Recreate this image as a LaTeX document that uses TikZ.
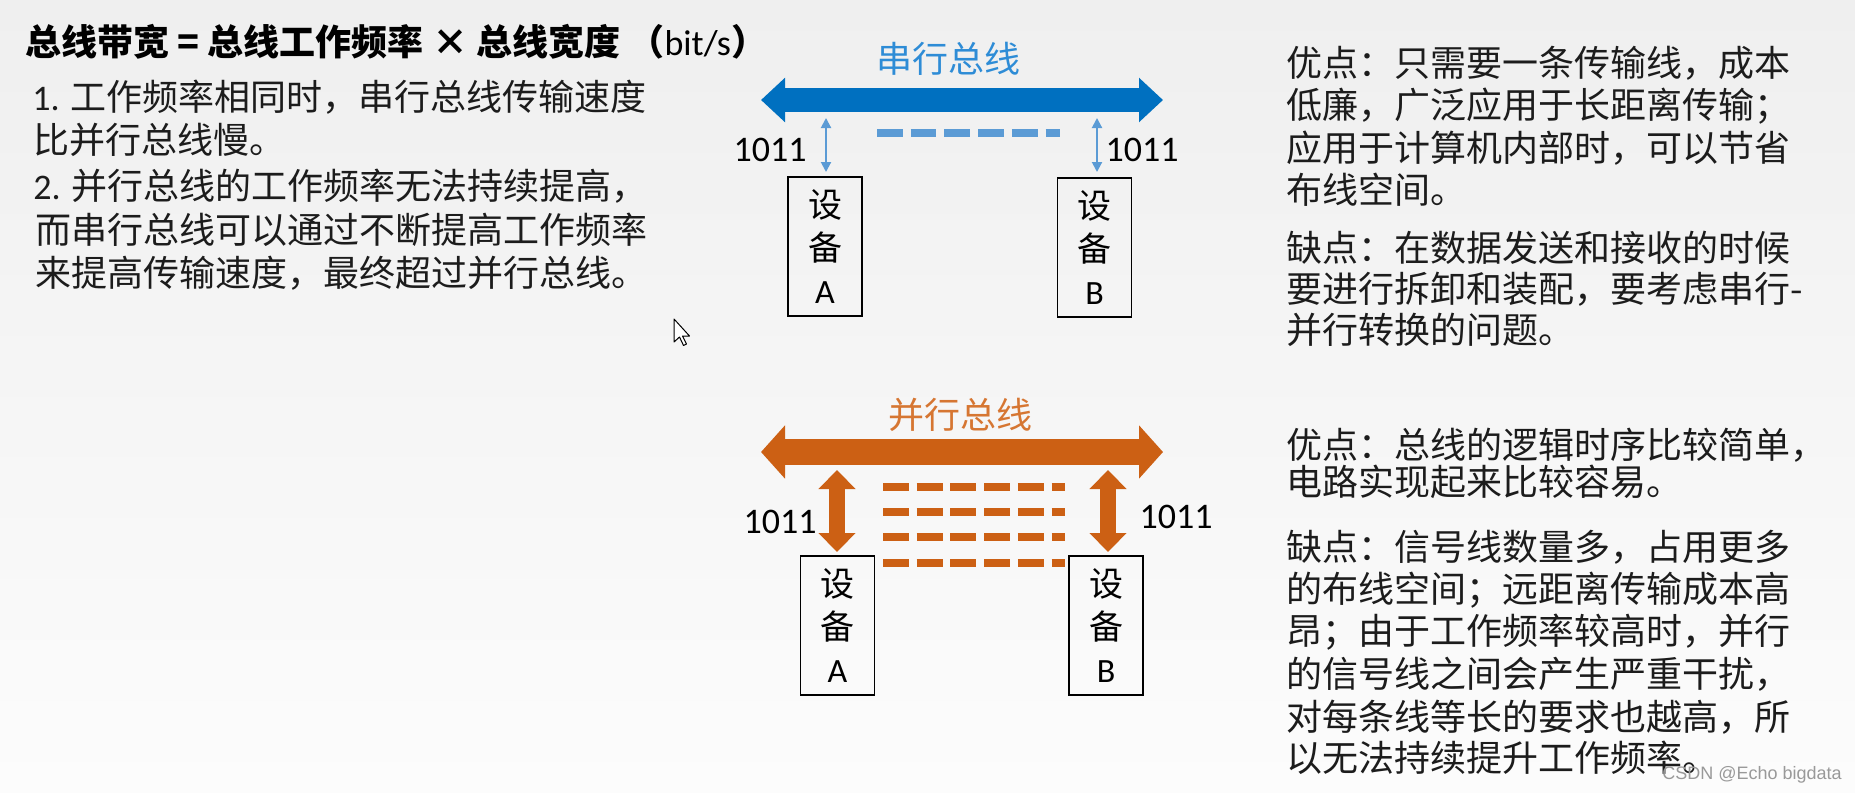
\documentclass[tikz,border=0pt]{standalone}
\usepackage{fontspec}
\setmainfont{Carlito}
\newfontfamily\cjk{Noto Sans CJK SC}
\newfontfamily\lat{Carlito}
\newfontfamily\wmfont{Liberation Sans}
\usetikzlibrary{arrows.meta}
\definecolor{serialblue}{RGB}{0,112,192}
\definecolor{lightblue}{RGB}{91,155,213}
\definecolor{serialtitle}{RGB}{46,140,214}
\definecolor{parorange}{RGB}{204,96,20}
\definecolor{partitle}{RGB}{214,118,50}
\definecolor{txt}{RGB}{28,28,28}
\definecolor{bgtop}{RGB}{239,239,239}
\definecolor{bgbot}{RGB}{252,252,252}
\tikzset{
  textline/.style={anchor=west, inner sep=0pt, text=txt, font=\cjk\fontsize{18pt}{21pt}\selectfont},
  devbox/.style={draw=black, line width=0.75pt, minimum width=37pt, minimum height=69.5pt, inner sep=0pt, align=center, text=black, font=\cjk\fontsize{17pt}{21.5pt}\selectfont},
  numlabel/.style={inner sep=0pt, text=black, font=\lat\fontsize{18pt}{20pt}\selectfont},
  bustitle/.style={inner sep=0pt, font=\cjk\fontsize{18pt}{21pt}\selectfont},
  serialbus/.style={serialblue, line width=11.5pt, {Triangle[length=12pt,width=21.5pt]}-{Triangle[length=12pt,width=21.5pt]}},
  parbus/.style={parorange, line width=13pt, {Triangle[length=12pt,width=26pt]}-{Triangle[length=12pt,width=26pt]}},
  thinlink/.style={lightblue, line width=1pt, {Triangle[length=5pt,width=5pt]}-{Triangle[length=5pt,width=5pt]}},
  thicklink/.style={parorange, line width=8pt, {Triangle[length=9.5pt,width=18pt]}-{Triangle[length=9.5pt,width=18pt]}},
  serialdash/.style={lightblue, line width=4pt, dash pattern=on 12.85pt off 4pt},
  pardash/.style={parorange, line width=4.25pt, dash pattern=on 13pt off 3.85pt}
}
\begin{document}
\begin{tikzpicture}[x=0.5pt,y=-0.5pt]
\useasboundingbox (0,0) rectangle (1855,792);
\shade[top color=bgtop, bottom color=bgbot] (0,0) rectangle (1855,792);

% ---------- left text ----------
\node[textline, text=black, font=\cjk\bfseries\fontsize{18pt}{21pt}\selectfont] (title) at (25,42) {总线带宽 = 总线工作频率 × 总线宽度 （{\lat\mdseries bit/s}）};
\node[textline] (l1) at (32,97) {{\lat 1.} 工作频率相同时，串行总线传输速度};
\node[textline] (l2) at (33,140) {比并行总线慢。};
\node[textline] (l3) at (33,186) {{\lat 2.} 并行总线的工作频率无法持续提高，};
\node[textline] (l4) at (35,230) {而串行总线可以通过不断提高工作频率};
\node[textline] (l5) at (35,273) {来提高传输速度，最终超过并行总线。};

% ---------- serial bus ----------
\node[bustitle, text=serialtitle] (stitle) at (948,59) {串行总线};
\coordinate (sL) at (761,100);
\coordinate (sR) at (1163,100);
\draw[serialbus] (sL) -- (sR);
\node[devbox] (sA) at (825,246.5) {设\\备\\{\lat A}};
\node[devbox] (sB) at (1094.5,247.5) {设\\备\\{\lat B}};
\coordinate (sAt) at (826,118);
\coordinate (sAb) at (826,172);
\coordinate (sBt) at (1097,118);
\coordinate (sBb) at (1097,172);
\draw[thinlink] (sAt) -- (sAb);
\draw[thinlink] (sBt) -- (sBb);
\coordinate (sd1) at (877,133);
\coordinate (sd2) at (1060,133);
\draw[serialdash] (sd1) -- (sd2);
\node[numlabel] (sn1) at (770,150) {1011};
\node[numlabel] (sn2) at (1142,150) {1011};

% ---------- parallel bus ----------
\node[bustitle, text=partitle] (ptitle) at (960,415) {并行总线};
\coordinate (pL) at (761,452);
\coordinate (pR) at (1163,452);
\draw[parbus] (pL) -- (pR);
\node[devbox] (pA) at (837.5,625.5) {设\\备\\{\lat A}};
\node[devbox] (pB) at (1106,625.5) {设\\备\\{\lat B}};
\coordinate (pAt) at (837,470);
\coordinate (pAb) at (837,552);
\coordinate (pBt) at (1108,470);
\coordinate (pBb) at (1108,552);
\draw[thicklink] (pAt) -- (pAb);
\draw[thicklink] (pBt) -- (pBb);
\foreach \yy/\nm in {487/a,512/b,537/c,563/d}{
  \coordinate (pd\nm1) at (883,\yy);
  \coordinate (pd\nm2) at (1065,\yy);
  \draw[pardash] (pd\nm1) -- (pd\nm2);
}
\node[numlabel] (pn1) at (780,522) {1011};
\node[numlabel] (pn2) at (1176,517) {1011};

% ---------- right text (serial) ----------
\node[textline] (r1) at (1286,63) {优点：只需要一条传输线，成本};
\node[textline] (r2) at (1286,106) {低廉，广泛应用于长距离传输；};
\node[textline] (r3) at (1286,148) {应用于计算机内部时，可以节省};
\node[textline] (r4) at (1286,190) {布线空间。};
\node[textline] (r5) at (1286,248) {缺点：在数据发送和接收的时候};
\node[textline] (r6) at (1286,289) {要进行拆卸和装配，要考虑串行-};
\node[textline] (r7) at (1286,330) {并行转换的问题。};

% ---------- right text (parallel) ----------
\node[textline] (p1) at (1286,445) {优点：总线的逻辑时序比较简单，};
\node[textline] (p2) at (1286,482) {电路实现起来比较容易。};
\node[textline] (p3) at (1286,547) {缺点：信号线数量多，占用更多};
\node[textline] (p4) at (1286,590) {的布线空间；远距离传输成本高};
\node[textline] (p5) at (1286,632) {昂；由于工作频率较高时，并行};
\node[textline] (p6) at (1286,674) {的信号线之间会产生严重干扰，};
\node[textline] (p7) at (1286,717) {对每条线等长的要求也越高，所};
\node[textline] (p8) at (1286,758) {以无法持续提升工作频率。};

% ---------- watermark ----------
\node[anchor=east, inner sep=0pt, text=black!40, font=\wmfont\fontsize{9pt}{11pt}\selectfont] (wm) at (1842,775) {CSDN @Echo bigdata};

% ---------- mouse cursor ----------
\draw[black, line width=0.5pt, fill=white, line join=round]
  (674,319) -- (674,342) -- (679.5,337) -- (683.5,345.5) -- (686.5,344) -- (682.5,336) -- (689.5,336) -- cycle;
\end{tikzpicture}
\end{document}
